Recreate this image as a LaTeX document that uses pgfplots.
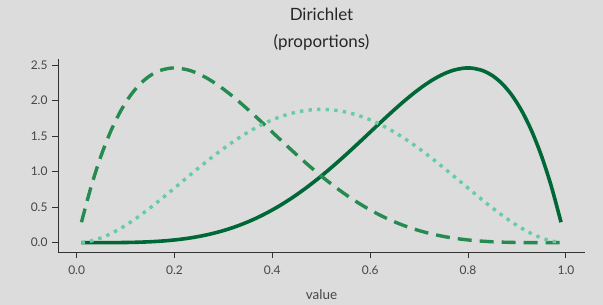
\documentclass[border=0pt]{standalone}
\usepackage{fontspec}
\setmainfont{Lato}
\usepackage{pgfplots}
\pgfplotsset{compat=1.18}
\definecolor{bg}{RGB}{220,220,220}
\definecolor{cSolid}{RGB}{0,104,55}
\definecolor{cDash}{RGB}{38,139,80}
\definecolor{cDot}{RGB}{102,204,164}
\definecolor{txt}{RGB}{70,70,70}
\definecolor{spine}{RGB}{50,50,50}
\begin{document}
\begin{tikzpicture}
\fill[bg] (0,0) rectangle (603bp,305bp);
\useasboundingbox (0,0) rectangle (603bp,305bp);
\begin{axis}[
  at={(58bp,53bp)}, anchor=south west,
  scale only axis, width=527bp, height=193bp,
  xmin=-0.038, xmax=1.039, ymin=-0.131, ymax=2.584,
  axis x line*=bottom, axis y line*=left,
  axis line style={spine, line width=0.9pt, -},
  xtick={0,0.2,0.4,0.6,0.8,1.0},
  ytick={0,0.5,1.0,1.5,2.0,2.5},
  xticklabel style={/pgf/number format/.cd, fixed, fixed zerofill, precision=1},
  yticklabel style={/pgf/number format/.cd, fixed, fixed zerofill, precision=1},
  /pgf/number format/assume math mode=true,
  tick style={spine, line width=0.9pt},
  tick align=outside, major tick length=6bp,
  ticklabel style={font=\fontsize{12}{14}\selectfont, text=txt},
  xticklabel shift=4bp, yticklabel shift=1bp,
  xlabel={value}, xlabel style={font=\fontsize{13.5}{15}\selectfont, text=txt, yshift=-8bp},
  clip=false,
]
\addplot[cSolid, line width=3.6bp, smooth] table {
0.01 0.0000
0.03 0.0000
0.05 0.0002
0.07 0.0007
0.09 0.0018
0.11 0.0039
0.13 0.0075
0.15 0.0129
0.17 0.0208
0.19 0.0317
0.21 0.0461
0.23 0.0646
0.25 0.0879
0.27 0.1164
0.29 0.1507
0.31 0.1912
0.33 0.2384
0.35 0.2926
0.37 0.3542
0.39 0.4234
0.41 0.5002
0.43 0.5846
0.45 0.6766
0.47 0.7759
0.49 0.8820
0.51 0.9945
0.53 1.1126
0.55 1.2353
0.57 1.3617
0.59 1.4904
0.61 1.6200
0.63 1.7486
0.65 1.8743
0.67 1.9950
0.69 2.1080
0.71 2.2108
0.73 2.3003
0.75 2.3730
0.77 2.4256
0.79 2.4539
0.80 2.4576
0.81 2.4537
0.83 2.4204
0.85 2.3490
0.87 2.2343
0.89 2.0705
0.91 1.8515
0.93 1.5709
0.95 1.2218
0.97 0.7968
0.99 0.2882
};
\addplot[cDash, line width=3.4bp, smooth, line cap=butt, dash pattern=on 14bp off 8bp] table {
0.01 0.2882
0.03 0.7968
0.05 1.2218
0.07 1.5709
0.09 1.8515
0.11 2.0705
0.13 2.2343
0.15 2.3490
0.17 2.4204
0.19 2.4537
0.20 2.4576
0.21 2.4539
0.23 2.4256
0.25 2.3730
0.27 2.3003
0.29 2.2108
0.31 2.1080
0.33 1.9950
0.35 1.8743
0.37 1.7486
0.39 1.6200
0.41 1.4904
0.43 1.3617
0.45 1.2353
0.47 1.1126
0.49 0.9945
0.51 0.8820
0.53 0.7759
0.55 0.6766
0.57 0.5846
0.59 0.5002
0.61 0.4234
0.63 0.3542
0.65 0.2926
0.67 0.2384
0.69 0.1912
0.71 0.1507
0.73 0.1164
0.75 0.0879
0.77 0.0646
0.79 0.0461
0.81 0.0317
0.83 0.0208
0.85 0.0129
0.87 0.0075
0.89 0.0039
0.91 0.0018
0.93 0.0007
0.95 0.0002
0.97 0.0000
0.99 0.0000
};
\addplot[cDot, line width=3.4bp, smooth, line cap=butt, dash pattern=on 3.4bp off 5.2bp] table {
0.01 0.0029
0.03 0.0254
0.05 0.0677
0.07 0.1271
0.09 0.2012
0.11 0.2875
0.13 0.3838
0.15 0.4877
0.17 0.5973
0.19 0.7106
0.21 0.8257
0.23 0.9409
0.25 1.0547
0.27 1.1655
0.29 1.2718
0.31 1.3726
0.33 1.4666
0.35 1.5527
0.37 1.6301
0.39 1.6979
0.41 1.7555
0.43 1.8022
0.45 1.8377
0.47 1.8615
0.49 1.8735
0.50 1.8750
0.51 1.8735
0.53 1.8615
0.55 1.8377
0.57 1.8022
0.59 1.7555
0.61 1.6979
0.63 1.6301
0.65 1.5527
0.67 1.4666
0.69 1.3726
0.71 1.2718
0.73 1.1655
0.75 1.0547
0.77 0.9409
0.79 0.8257
0.81 0.7106
0.83 0.5973
0.85 0.4877
0.87 0.3838
0.89 0.2875
0.91 0.2012
0.93 0.1271
0.95 0.0677
0.97 0.0254
0.99 0.0029
};
\end{axis}
\node[font=\fontsize{17}{27}\selectfont, text=black!85, align=center, anchor=center] at (321.5bp,276bp) {Dirichlet\\(proportions)};
\end{tikzpicture}
\end{document}
